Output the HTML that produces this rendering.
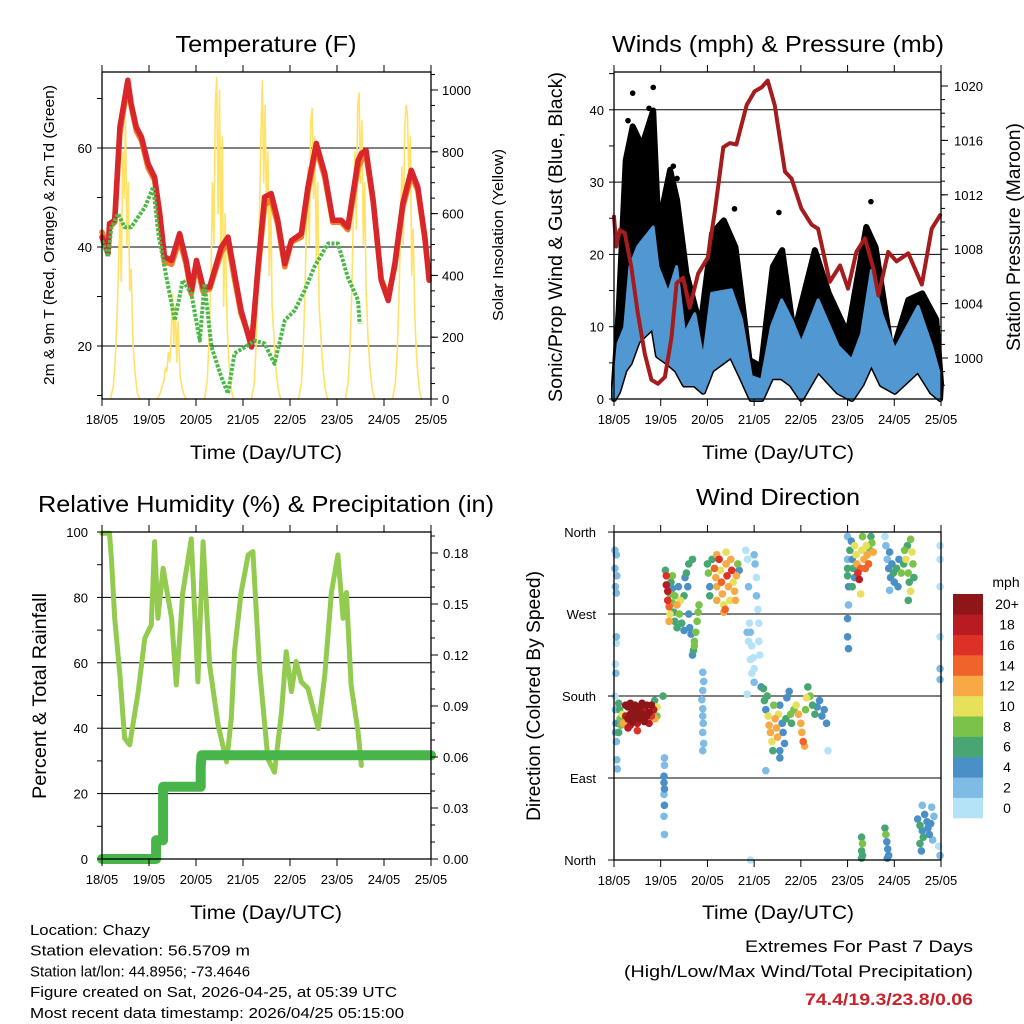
<!DOCTYPE html>
<html><head><meta charset="utf-8"><style>
html,body{margin:0;padding:0;background:#fff;}
svg{display:block;font-family:"Liberation Sans",Arial,sans-serif;}
</style></head><body>
<svg id="chart" width="1024" height="1024" viewBox="0 0 1024 1024" xmlns="http://www.w3.org/2000/svg">
<rect x="0" y="0" width="1024" height="1024" fill="#fff"/>
</svg>
<script>
// ---------- Panel 1: temperature ----------
var redT=[0,0.13,0.16,0.27,0.38,0.55,0.62,0.73,0.84,0.98,1.12,1.23,1.33,1.48,1.65,1.79,1.9,2.01,2.15,2.29,2.54,2.68,2.82,2.96,3.18,3.32,3.46,3.6,3.74,3.89,4.03,4.24,4.38,4.56,4.74,4.91,5.09,5.23,5.45,5.52,5.62,5.77,5.94,6.09,6.23,6.4,6.58,6.72,6.87,6.96];
var redV=[42,38.7,44.7,45.4,64.2,73.7,69,64.2,62.2,56.8,54.1,46.7,38,37.3,42.7,37.3,31.2,37.3,31.9,31.9,40,42,34.6,27.2,19.8,36,50.1,50.8,45.4,36.6,41.3,42.7,52.1,60.9,54.8,45.4,45.4,44,57.5,58.9,59.5,49.4,33.3,29.2,36.6,48.8,55.5,52.1,42,33.3];
var orangeV=[43,39.5,44,45,63,73,68.5,63.5,61.5,56,53.5,45.5,37,36.5,41.5,36.5,30.5,36.5,31,31.5,39,41,33.5,26.5,20.5,35,48.5,49.5,44.5,36,41,42,51,60,54,45,45,43.5,56,57.5,58.5,49,33.5,30,36,48,54.5,51.5,41.5,34];
var dewT=[0,0.13,0.2,0.34,0.48,0.62,0.91,1.09,1.2,1.37,1.55,1.72,1.9,2.08,2.18,2.33,2.54,2.68,2.82,3.04,3.25,3.46,3.67,3.89,4.1,4.31,4.52,4.81,5.02,5.23,5.45,5.48];
var dewV=[41.3,38,44,46.7,44,44,48,52.1,42.7,33.9,25.2,33.3,30.6,21.1,32.6,19.8,13.7,10.4,18.5,19.8,21.1,20.5,16.4,25.2,27.2,31.2,36,40.7,40.7,33.9,29.2,24.5];
var solarOffsets=[0.18,0.24,0.28,0.32,0.35,0.38,0.41,0.44,0.47,0.5,0.53,0.56,0.59,0.62,0.66,0.7,0.75,0.8];
var solarDay0=[0,40,120,260,420,600,380,800,650,900,500,700,350,420,180,90,20,0];
var solarDay1=[0,20,40,60,100,90,150,120,200,340,180,300,120,250,80,40,10,0];
var solarDay2=[0,60,200,400,700,500,950,1040,600,1000,450,850,300,600,250,120,30,0];
var solarDay3=[0,50,180,380,600,850,1030,700,950,600,800,400,650,300,200,100,30,0];
var solarDay4=[0,50,160,350,550,750,500,900,940,650,850,450,700,300,200,100,30,0];
var solarDay5=[0,60,180,380,600,800,550,950,990,700,900,500,700,350,200,100,30,0];
var solarDay6=[0,50,150,330,550,750,500,880,950,920,700,850,400,550,250,120,30,0];
var solarDays=[solarDay0,solarDay1,solarDay2,solarDay3,solarDay4,solarDay5,solarDay6];
// ---------- Panel 2: winds & pressure ----------
var blueT=[0,0.09,0.23,0.34,0.51,0.84,0.94,1.16,1.34,1.51,1.73,1.91,2.09,2.51,2.73,2.94,3.16,3.37,3.59,3.8,4.01,4.37,4.8,5.09,5.3,5.51,5.73,6.01,6.51,6.8,6.98];
var blueMax=[1.5,7.7,9.9,18.3,21.1,23.8,18.3,14.6,18.3,9,11.8,5.4,14.6,15.1,11,3.1,2.6,10,13.7,11,7.7,13.7,7.3,5.4,9,17.8,11.8,6.8,12.8,7.3,3.1];
var blueMin=[0,1,4,5,8,10,6,5,4,2,2,1,4,6,3,0,0,3,3,2,0,4,1,0,2,5,2,1,4,1,0];
var gustT=[0,0.1,0.25,0.4,0.6,0.84,0.95,1.2,1.35,1.55,1.85,2.1,2.35,2.6,2.9,3.15,3.4,3.6,3.85,4.3,4.6,5.0,5.4,5.6,5.95,6.3,6.6,6.9,7];
var gustMax=[2,12.4,33,37.7,35,39.9,23.8,31.7,27.5,17.4,10,22.9,24.7,21,5.4,4.5,18.3,20.6,9,20.6,14.6,9,23.8,21,6.3,13.7,14.6,11,2.2];
var gustOutT=[0.4,0.84,1.27,1.35,2.58,3.53,5.5,0.3,0.75];
var gustOutV=[42.3,43.1,32.2,30.5,26.3,25.8,27.3,38.5,40.2];
var presT=[0,0.05,0.12,0.23,0.37,0.51,0.66,0.8,0.94,1.09,1.23,1.34,1.48,1.62,1.8,2.01,2.16,2.34,2.48,2.62,2.84,3.01,3.16,3.29,3.44,3.66,3.8,4.01,4.23,4.37,4.62,4.84,5.01,5.19,5.37,5.55,5.66,5.87,6.05,6.3,6.59,6.8,6.98];
var presV=[1010.4,1008.2,1009.4,1009.2,1006.7,1003.3,1000.3,998.4,998.1,998.6,1001.5,1005.5,1005.9,1003.7,1006.2,1007.4,1010.8,1015.5,1015.8,1015.7,1018.6,1019.6,1019.9,1020.4,1018.6,1013.7,1013.2,1011,1009.8,1009.5,1005.6,1006.8,1005.1,1007.8,1008.8,1006.6,1004.6,1007.8,1007.1,1007.7,1005.4,1009.5,1010.5];
// ---------- Panel 3: RH & rain ----------
var rhT=[0,0.16,0.2,0.27,0.38,0.48,0.59,0.77,0.91,1.05,1.12,1.19,1.3,1.48,1.58,1.72,1.9,2.04,2.15,2.29,2.47,2.65,2.75,2.82,2.96,3.11,3.21,3.35,3.53,3.67,3.82,3.92,4.03,4.13,4.24,4.38,4.6,4.74,4.88,5.02,5.13,5.2,5.3,5.45,5.52];
var rhV=[99.6,99.6,92,73.6,56.3,36.9,34.9,51.2,67.5,71.6,97,73.6,88.9,73.6,53.2,81.5,97.9,54.2,97,59.3,41,29.7,43,63.4,81.5,93,94,58.3,30.6,26.5,45,63.4,51.2,60.4,54.2,52.2,39.9,56.3,81.5,93,73.6,81.5,53.2,38.8,28.6];
var rainT=[0,1.15,1.15,1.3,1.3,1.3,2.1,2.1,2.12,7];
var rainV=[0,0,0.011,0.011,0.022,0.0425,0.0425,0.054,0.061,0.061];
// ---------- Panel 4: wind direction ----------
var dirPts="0.02,340,3;0.05,335,2;0.02,320,3;0.06,312,2;0.03,300,2;0.05,293,3;0.05,245,2;0.05,238,1;0.03,215,1;0.04,205,2;0.02,180,1;0.03,165,3;0.04,150,2;0.03,140,3;0.05,130,2;0.06,110,2;0.07,100,3;"+
"0.12,165,7;0.13,155,8;0.15,148,9;0.1,172,6;0.18,160,10;0.2,150,12;0.08,150,4;0.1,140,7;"+
"0.25,170,20;0.25,158,18;0.3,168,20;0.3,155,20;0.35,172,20;0.35,160,20;0.35,148,18;0.4,165,20;0.4,152,20;0.45,170,20;0.45,158,20;0.5,162,20;0.5,150,18;0.55,168,20;0.55,155,20;0.6,172,20;0.6,160,20;0.65,165,18;0.65,152,20;0.7,170,20;0.7,158,20;0.75,162,20;0.75,150,18;0.8,170,20;0.8,158,16;0.85,165,18;0.88,155,12;0.92,168,10;0.92,158,8;0.87,175,6;0.3,145,18;0.5,142,16;"+
"1.08,112,2;1.08,104,2;1.07,92,4;1.07,85,4;1.08,78,4;1.07,72,2;1.08,60,4;1.07,48,2;1.08,28,2;1.05,180,6;"+
"1.12,312,16;1.12,302,18;1.15,295,18;1.15,285,16;1.18,278,14;1.2,270,10;1.2,292,8;1.22,305,6;1.25,298,4;1.25,282,8;1.28,272,6;1.3,290,8;1.3,262,6;1.35,255,6;1.38,300,4;1.4,270,8;1.42,285,10;1.45,260,6;1.5,252,4;1.5,290,6;1.52,310,4;1.55,315,6;1.58,300,4;1.6,270,4;1.62,255,4;1.65,248,4;1.6,325,6;1.68,330,6;1.1,318,6;1.25,312,8;1.35,280,12;1.18,262,12;"+
"1.75,250,8;1.78,262,8;1.8,272,8;1.82,280,8;1.72,240,8;1.7,230,6;1.68,225,4;1.72,235,8;"+
"1.9,206,2;1.92,196,2;1.9,186,2;1.88,176,2;1.9,166,2;1.9,158,2;1.91,150,2;1.9,140,2;1.92,128,2;1.9,120,2;"+
"2.0,325,6;2.02,315,8;2.05,300,4;2.05,290,6;2.1,330,6;2.15,320,14;2.18,310,12;2.2,300,12;2.2,285,12;2.25,330,16;2.28,318,10;2.3,305,14;2.32,292,12;2.35,280,10;2.38,275,14;2.4,325,12;2.42,312,16;2.45,300,12;2.48,285,10;2.5,330,12;2.52,318,16;2.55,305,10;2.58,295,12;2.6,285,12;2.62,312,12;2.65,325,8;2.68,318,4;2.4,338,10;2.2,335,12;2.35,272,12;"+
"2.82,340,1;2.86,330,1;2.88,300,2;2.9,260,1;2.92,250,2;2.95,235,1;2.98,222,1;3.0,210,1;2.85,250,2;2.88,240,1;2.92,220,1;2.95,205,1;3.0,335,2;3.02,325,2;3.05,310,1;3.05,290,2;3.08,275,1;3.1,260,1;3.1,240,1;3.12,225,1;3.0,195,2;2.85,182,0;2.92,0,1;"+
"3.2,188,6;3.22,175,6;3.25,165,4;3.28,180,6;3.3,158,10;3.32,148,12;3.35,140,12;3.38,130,10;3.4,120,6;3.42,170,8;3.45,155,12;3.48,145,12;3.5,135,12;3.52,160,10;3.55,170,4;3.6,150,4;3.62,140,4;3.65,128,4;3.68,155,6;3.7,178,4;3.75,185,4;3.78,160,8;3.8,150,6;3.85,165,8;3.9,170,10;3.95,160,12;4.0,150,12;4.02,140,12;4.05,130,14;4.08,125,12;4.1,165,8;4.12,178,10;4.15,190,6;4.2,180,8;4.25,170,6;4.3,160,6;4.35,168,4;4.4,175,4;4.45,158,4;4.5,165,4;4.55,150,4;4.58,120,1;3.55,112,4;3.55,120,4;3.25,98,2;3.15,190,4;"+
"5.0,355,2;5.0,330,2;5.02,300,4;5.02,280,2;5.0,265,4;5.0,245,4;5.02,232,4;5.0,312,6;5.0,320,6;"+
"5.05,340,6;5.08,350,4;5.1,330,4;5.12,320,6;5.15,345,10;5.18,335,10;5.2,325,12;5.22,315,16;5.25,308,18;5.28,320,14;5.3,340,10;5.32,355,8;5.35,330,12;5.38,320,14;5.4,345,10;5.42,335,12;5.45,325,14;5.48,340,8;5.5,355,6;5.52,348,8;5.55,338,12;5.28,292,10;5.1,300,6;5.15,310,4;"+
"5.8,355,1;5.82,345,2;5.85,330,2;5.88,320,4;5.9,338,4;5.92,310,4;5.95,325,4;5.98,315,6;6.0,305,4;6.05,320,6;6.08,300,4;6.1,330,4;6.15,315,8;6.2,325,6;6.22,340,8;6.25,330,10;6.28,345,6;6.3,315,8;6.32,305,6;6.35,295,10;6.35,352,8;6.38,338,10;6.4,325,8;6.42,310,6;6.3,285,6;5.9,296,2;"+
"5.3,25,6;5.32,18,8;5.3,10,6;5.32,5,6;5.3,2,6;5.8,35,6;5.82,28,8;5.84,20,4;5.86,12,4;5.88,5,4;5.85,2,4;6.5,45,4;6.55,38,6;6.6,32,4;6.62,25,6;6.65,50,4;6.7,42,4;6.72,35,4;6.75,28,4;6.78,40,4;6.8,58,2;6.85,48,2;6.55,18,6;6.58,10,4;6.82,22,2;6.6,60,2;"+
"6.98,345,1;6.98,330,1;6.98,300,1;6.98,245,1;6.98,210,2;6.98,198,2;6.95,15,0;6.98,5,2";
var dayLabels=["18/05","19/05","20/05","21/05","22/05","23/05","24/05","25/05"];
var speedLabels=["0","2","4","6","8","10","12","14","16","18","20+"];
var speedColors=["#b4e2f7","#7ebbe5","#4a8fc6","#48a672","#7bc24b","#e6e05a","#f6a945","#f0632a","#dd3127","#b81b22","#8e1619"];

var NS="http://www.w3.org/2000/svg";
var svg=document.getElementById('chart');
function mk(tag,attrs,parent){var e=document.createElementNS(NS,tag);for(var k in attrs)e.setAttribute(k,attrs[k]);(parent||svg).appendChild(e);return e;}
function txt(s,x,y,size,anchor,parent,extra){var e=mk('text',{x:x,y:y,'font-size':size,'text-anchor':anchor||'middle',fill:'#000'},parent);if(extra)for(var k in extra)e.setAttribute(k,extra[k]);e.textContent=s;return e;}
function pts(xs,ys){return xs.map(function(x,i){return x.toFixed(1)+','+ys[i].toFixed(1);}).join(' ');}

function frame(P,name){
  var g=mk('g',{});
  
  
  return g;
}
function xAxis(P,g){
  for(var d=0;d<=7;d++){
    var x=P.x0+d*(P.x1-P.x0)/7;
    mk('line',{x1:x,x2:x,y1:P.y1,y2:P.y1+7,stroke:'#000','stroke-width':1},g);
    mk('line',{x1:x,x2:x,y1:P.y0,y2:P.y0-7,stroke:'#000','stroke-width':1},g);
    var t=txt(dayLabels[d],x,P.y1+25,13,'middle',g);
    
    
  }
}
function box(P,g){
  var r=mk('rect',{x:P.x0,y:P.y0,width:P.x1-P.x0,height:P.y1-P.y0,fill:'none',stroke:'#000','stroke-width':1.3},g);
  
  
}
function grid(P,g,ys){ys.forEach(function(y){var l=mk('line',{x1:P.x0,x2:P.x1,y1:y,y2:y,stroke:'#000','stroke-width':1},g);});}
function leftTicks(P,g,ys,len){ys.forEach(function(y){mk('line',{x1:P.x0,x2:P.x0-len,y1:y,y2:y,stroke:'#000','stroke-width':1},g);});}
function rightTicks(P,g,ys,len){ys.forEach(function(y){mk('line',{x1:P.x1,x2:P.x1+len,y1:y,y2:y,stroke:'#000','stroke-width':1},g);});}
function vlabel(s,x,y,size,len,g,name){var t=txt(s,0,0,size,'middle',g,{transform:'translate('+x+','+y+') rotate(-90)',textLength:len,lengthAdjust:'spacingAndGlyphs'});}

// ===== Panel 1 =====
(function(){
  var P={x0:102,x1:431,y0:72,y1:399};
  var g=frame(P,'temperature-panel');
  var xs=function(t){return P.x0+t*(P.x1-P.x0)/7;};
  var ty=function(v){return 346-(v-20)*4.95;};
  var sy=function(v){return 399-v*0.309;};
  grid(P,g,[20,40,60].map(ty));
  var sg=mk('g',{},g);
  
  
  solarDays.forEach(function(arr,d){
    var X=solarOffsets.map(function(o){return xs(d+o);}),Y=arr.map(sy);
    var pl=mk('polyline',{points:pts(X,Y),fill:'none',stroke:'#ffe267','stroke-width':1.6,'stroke-linejoin':'round'},sg);
    
    
  });
  var o=mk('polyline',{points:pts(redT.map(xs),orangeV.map(ty)),fill:'none',stroke:'#f27e26','stroke-width':5.5,'stroke-linejoin':'round','stroke-linecap':'round'},g);
  
  
  var r=mk('polyline',{points:pts(redT.map(xs),redV.map(ty)),fill:'none',stroke:'#d8262a','stroke-width':5.5,'stroke-linejoin':'round','stroke-linecap':'round'},g);
  
  
  var gr=mk('polyline',{points:pts(dewT.map(xs),dewV.map(ty)),fill:'none',stroke:'#4cb848','stroke-width':4,'stroke-dasharray':'3 1.5','stroke-linejoin':'round'},g);
  
  
  box(P,g);xAxis(P,g);
  var lt=[];for(var v=10;v<=70;v+=10)lt.push(ty(v));leftTicks(P,g,lt,5);
  [20,40,60].forEach(function(v){var t=txt(String(v),P.x0-10,ty(v)+5,13,'end',g);});
  var rt=[];for(var w=0;w<=1050;w+=50)rt.push(sy(w));rightTicks(P,g,rt,4);
  [0,200,400,600,800,1000].forEach(function(v){rightTicks(P,g,[sy(v)],7);var t=txt(String(v),P.x1+11,sy(v)+5,13,'start',g);});
  var ti=txt('Temperature (F)',266,52,23,'middle',g,{textLength:181,lengthAdjust:'spacingAndGlyphs'});
  
  
  vlabel('2m & 9m T (Red, Orange) & 2m Td (Green)',54,235,15,300,g,'temperature-y-axis-title');
  vlabel('Solar Insolation (Yellow)',503,235,15,172,g,'solar-y-axis-title');
  var xl=txt('Time (Day/UTC)',266,459,19,'middle',g,{textLength:152,lengthAdjust:'spacingAndGlyphs'});
  
  
})();

// ===== Panel 2 =====
(function(){
  var P={x0:614,x1:941,y0:72,y1:399};
  var g=frame(P,'winds-pressure-panel');
  var xs=function(t){return P.x0+t*(P.x1-P.x0)/7;};
  var wy=function(v){return 399-v*7.23;};
  var py=function(v){return 358-(v-1000)*13.6;};
  grid(P,g,[10,20,30,40].map(wy));
  var top=pts(gustT.map(xs),gustMax.map(wy));
  var bot=pts(blueT.slice().reverse().map(xs),blueMin.slice().reverse().map(wy));
  var gp=mk('polygon',{points:top+' '+bot,fill:'#000',stroke:'#000','stroke-width':6,'stroke-linejoin':'round'},g);
  
  
  gustOutT.forEach(function(t,i){var c=mk('circle',{cx:xs(t),cy:wy(gustOutV[i]),r:2.8,fill:'#000'},g);});
  var btop=pts(blueT.map(xs),blueMax.map(wy));
  var bp=mk('polygon',{points:btop+' '+bot,fill:'#5197d2',stroke:'#5197d2','stroke-width':3,'stroke-linejoin':'round'},g);
  
  
  var pl=mk('polyline',{points:pts(presT.map(xs),presV.map(py)),fill:'none',stroke:'#a51c1e','stroke-width':4,'stroke-linejoin':'round','stroke-linecap':'round'},g);
  
  
  box(P,g);xAxis(P,g);
  var lt=[];for(var v=0;v<=45;v+=5)lt.push(wy(v));leftTicks(P,g,lt,5);
  [0,10,20,30,40].forEach(function(v){var t=txt(String(v),P.x0-10,wy(v)+5,13,'end',g);});
  var rt=[];for(var w=998;w<=1020;w+=1)rt.push(py(w));rightTicks(P,g,rt,4);
  [1000,1004,1008,1012,1016,1020].forEach(function(v){rightTicks(P,g,[py(v)],7);var t=txt(String(v),P.x1+13,py(v)+5,13,'start',g);});
  var ti=txt('Winds (mph) & Pressure (mb)',778,52,23,'middle',g,{textLength:332,lengthAdjust:'spacingAndGlyphs'});
  
  
  vlabel('Sonic/Prop Wind & Gust (Blue, Black)',562,237,19,330,g,'wind-y-axis-title');
  vlabel('Station Pressure (Maroon)',1020,237,19,228,g,'pressure-y-axis-title');
  var xl=txt('Time (Day/UTC)',778,459,19,'middle',g,{textLength:152,lengthAdjust:'spacingAndGlyphs'});
  
  
})();

// ===== Panel 3 =====
(function(){
  var P={x0:102,x1:431,y0:532,y1:859};
  var g=frame(P,'humidity-precip-panel');
  var xs=function(t){return P.x0+t*(P.x1-P.x0)/7;};
  var ry=function(v){return 859-v*3.27;};
  var py=function(v){return 859-v*1700;};
  grid(P,g,[20,40,60,80].map(ry));
  var rh=mk('polyline',{points:pts(rhT.map(xs),rhV.map(ry)),fill:'none',stroke:'#92cb4f','stroke-width':5,'stroke-linejoin':'round','stroke-linecap':'round'},g);
  
  
  var rn=mk('polyline',{points:pts(rainT.map(xs),rainV.map(py)),fill:'none',stroke:'#47b549','stroke-width':10,'stroke-linejoin':'round','stroke-linecap':'round'},g);
  
  
  box(P,g);xAxis(P,g);
  var lt=[];for(var v=0;v<=100;v+=10)lt.push(ry(v));leftTicks(P,g,lt,5);
  [0,20,40,60,80,100].forEach(function(v){var t=txt(String(v),P.x0-14,ry(v)+5,13,'end',g);});
  var rt=[];for(var w=0;w<=19;w++)rt.push(py(w/100));rightTicks(P,g,rt,4);
  ['0.00','0.03','0.06','0.09','0.12','0.15','0.18'].forEach(function(s){var v=parseFloat(s);rightTicks(P,g,[py(v)],7);var t=txt(s,P.x1+12,py(v)+5,13,'start',g);});
  var ti=txt('Relative Humidity (%) & Precipitation (in)',266,512,23,'middle',g,{textLength:456,lengthAdjust:'spacingAndGlyphs'});
  
  
  vlabel('Percent & Total Rainfall',46,696,19,206,g,'humidity-y-axis-title');
  var xl=txt('Time (Day/UTC)',266,919,19,'middle',g,{textLength:152,lengthAdjust:'spacingAndGlyphs'});
  
  
})();

// ===== Panel 4 =====
(function(){
  var P={x0:614,x1:941,y0:532,y1:860};
  var g=frame(P,'wind-direction-panel');
  var xs=function(t){return P.x0+t*(P.x1-P.x0)/7;};
  var dy=function(d){return 860-d*0.911;};
  grid(P,g,[90,180,270].map(dy));
  var dirT=[],dirDeg=[],dirSpd=[];
  dirPts.split(';').forEach(function(s){var a=s.split(',');dirT.push(+a[0]);dirDeg.push(+a[1]);dirSpd.push(+a[2]);});
  var order=dirSpd.map(function(s,i){return i;}).sort(function(a,b){return dirSpd[a]-dirSpd[b];});
  var dg=mk('g',{},g);
  
  
  order.forEach(function(i){
    var ci=Math.min(10,Math.floor(dirSpd[i]/2));
    var c=mk('circle',{cx:xs(dirT[i]),cy:dy(dirDeg[i]),r:3.8,fill:speedColors[ci]},dg);
    
    
  });
  box(P,g);xAxis(P,g);
  var names=['North','East','South','West','North'];
  [0,90,180,270,360].forEach(function(d,i){leftTicks(P,g,[dy(d)],6);var t=txt(names[i],P.x0-18,dy(d)+5,13,'end',g);});
  var ti=txt('Wind Direction',778,505,23,'middle',g,{textLength:164,lengthAdjust:'spacingAndGlyphs'});
  
  
  vlabel('Direction (Colored By Speed)',540,696,19,250,g,'direction-y-axis-title');
  var xl=txt('Time (Day/UTC)',778,919,19,'middle',g,{textLength:152,lengthAdjust:'spacingAndGlyphs'});
  
  
  var cb=mk('g',{},g);
  
  
  var h=(818-594)/11;
  speedColors.forEach(function(c,i){
    var y=818-(i+1)*h;
    var r=mk('rect',{x:953,y:y,width:30,height:h+0.3,fill:c},cb);
    
    
    var t=txt(speedLabels[i],1007,y+h/2+5,14,'middle',cb);
    
    
  });
  var m=txt('mph',1006,587,14,'middle',cb);
  
  
})();

// ===== Footer text =====
(function(){
  var lines=['Location: Chazy','Station elevation: 56.5709 m','Station lat/lon: 44.8956; -73.4646','Figure created on Sat, 2026-04-25, at 05:39 UTC','Most recent data timestamp: 2026/04/25 05:15:00'];
  var lens=[120,220,220,367,374];
  lines.forEach(function(s,i){var t=txt(s,30,935+i*20.7,14.5,'start',svg,{textLength:lens[i],lengthAdjust:'spacingAndGlyphs'});});
  var a=txt('Extremes For Past 7 Days',973,952,17,'end',svg,{textLength:228,lengthAdjust:'spacingAndGlyphs'});
  
  
  var b=txt('(High/Low/Max Wind/Total Precipitation)',973,977,17,'end',svg,{textLength:349,lengthAdjust:'spacingAndGlyphs'});
  
  
  var c=txt('74.4/19.3/23.8/0.06',973,1005,17,'end',svg,{textLength:168,lengthAdjust:'spacingAndGlyphs','font-weight':'bold',fill:'#c8222a'});
  c.setAttribute('fill','#c8222a');
  
  
})();
</script>
</body></html>
